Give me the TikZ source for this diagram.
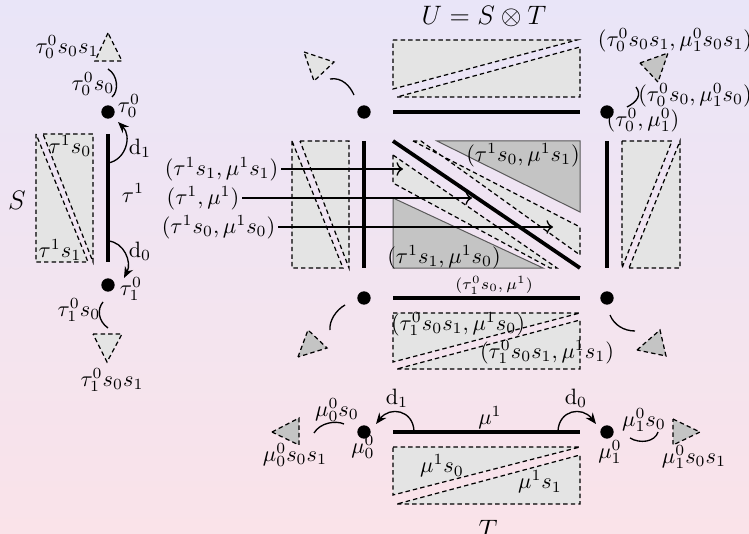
\documentclass[tikz,border=0pt]{standalone}
\usetikzlibrary{arrows.meta}
\definecolor{bgtop}{HTML}{E9E5F8}
\definecolor{bgbot}{HTML}{FAE3E9}
\definecolor{lgray}{HTML}{E4E4E4}
\definecolor{dgray}{HTML}{C4C4C4}
\begin{document}
\begin{tikzpicture}[x=0.45pt,y=-0.45pt,
  lt/.style={fill=lgray, draw=black, dash pattern=on 2pt off 1.4pt, line width=0.55pt},
  dk/.style={fill=dgray, draw=black, dash pattern=on 2pt off 1.4pt, line width=0.55pt},
  dks/.style={fill=dgray, draw=black!65, line width=0.45pt},
  edge/.style={line width=1.7pt},
  dot/.style={circle, fill=black, inner sep=0pt, minimum size=6pt},
  arc/.style={line width=0.6pt},
  face/.style={line width=0.6pt,-{Stealth[length=5pt,width=4pt]}},
  lab/.style={inner sep=1pt}]
\useasboundingbox (0,0) rectangle (749,534);
\shade[top color=bgtop,bottom color=bgbot] (0,0) rectangle (749,534);

% ================= S =================
\node[dot] (t00) at (108,112) {};
\node[dot] (t10) at (108,285) {};
\path[lt] (36,134) -- (36,262) -- (88,262) -- cycle;
\path[lt] (43,134) -- (93,134) -- (93,262) -- cycle;
\node[lab] (ts0) at (70,146) {$\tau^1s_0$};
\node[lab] (ts1) at (60,250) {$\tau^1s_1$};
\node (Slab) at (17,200) {\large $S$};
\coordinate (sa) at (108,134); \coordinate (sb) at (108,262);
\draw[edge] (sa) -- (sb);
\node[lab] (tau1) at (133,193) {$\tau^1$};
\node[lab] (t00l) at (129,106) {$\tau^0_0$};
\node[lab] (t10l) at (131,289) {$\tau^0_1$};
% d1, d0
\coordinate (d1s) at (108,163); \coordinate (d1e) at (118,122);
\draw[face] (d1s) .. controls (126,160) and (132,136) .. (d1e);
\node[lab] (d1l) at (140,148) {$\mathrm{d}_1$};
\coordinate (d0s) at (108,241); \coordinate (d0e) at (124,278);
\draw[face] (d0s) .. controls (124,242) and (132,262) .. (d0e);
\node[lab] (d0l) at (140,251) {$\mathrm{d}_0$};
% top degenerate
\coordinate (ua) at (108,69); \coordinate (ub) at (112,97);
\draw[arc] (ua) .. controls (118,75) and (119,91) .. (ub);
\node[lab] (t00s0) at (93,84) {$\tau^0_0s_0$};
\path[lt] (108,33) -- (95,61) -- (122,61) -- cycle;
\node[lab] (t00s0s1) at (67,47) {$\tau^0_0s_0s_1$};
% bottom degenerate
\coordinate (la) at (103,302); \coordinate (lb) at (108,328);
\draw[arc] (la) .. controls (97,309) and (98,321) .. (lb);
\node[lab] (t10s0) at (79,310) {$\tau^0_1s_0$};
\path[lt] (93,334) -- (122,334) -- (107,362) -- cycle;
\node[lab] (t10s0s1) at (112,380) {$\tau^0_1s_0s_1$};

% ================= U =================
\node (Ulab) at (484,17) {\large $U=S\otimes T$};
% rectangles
\path[lt] (393,40) -- (577,40) -- (393,89) -- cycle;
\path[lt] (397,97) -- (580,97) -- (580,47) -- cycle;
\path[lt] (393,313) -- (580,313) -- (393,362) -- cycle;
\path[lt] (397,369) -- (580,369) -- (580,320) -- cycle;
\path[lt] (292,141) -- (292,268) -- (343,268) -- cycle;
\path[lt] (300,141) -- (349,141) -- (349,268) -- cycle;
\path[lt] (622,141) -- (672,141) -- (622,268) -- cycle;
\path[lt] (629,268) -- (680,268) -- (680,141) -- cycle;
% centre
\path[dks] (437,141) -- (580,141) -- (580,212) -- cycle;
\path[dks] (393,198) -- (393,268) -- (543,268) -- cycle;
\path[lt] (413,141) -- (421,141) -- (580,255) -- (580,227) -- cycle;
\path[lt] (393,155) -- (393,183) -- (550,268) -- (557,268) -- cycle;
% dots
\node[dot] (u00) at (364,112) {};
\node[dot] (u01) at (607,112) {};
\node[dot] (u10) at (364,298) {};
\node[dot] (u11) at (607,298) {};
% edges
\coordinate (e1a) at (393,112); \coordinate (e1b) at (580,112);
\coordinate (e2a) at (393,298); \coordinate (e2b) at (580,298);
\coordinate (e3a) at (364,141); \coordinate (e3b) at (364,268);
\coordinate (e4a) at (607,141); \coordinate (e4b) at (607,268);
\coordinate (e5a) at (393,141); \coordinate (e5b) at (580,268);
\draw[edge] (e1a) -- (e1b);
\draw[edge] (e2a) -- (e2b);
\draw[edge] (e3a) -- (e3b);
\draw[edge] (e4a) -- (e4b);
\draw[edge] (e5a) -- (e5b);
% centre labels
\node[lab] (c1) at (523,155) {$(\tau^1s_0,\mu^1s_1)$};
\node[lab] (c2) at (444,257) {$(\tau^1s_1,\mu^1s_0)$};
\node[lab] (c3) at (494,285) {\fontsize{7.5}{9}\selectfont $(\tau^0_1s_0,\mu^1)$};
\node[lab] (c4) at (458,324) {$(\tau^0_1s_0s_1,\mu^1s_0)$};
\node[lab] (c5) at (547,352) {$(\tau^0_1s_0s_1,\mu^1s_1)$};
% left labels with arrows
\node[lab,anchor=east] (a1) at (281,169) {$(\tau^1s_1,\mu^1s_1)$};
\node[lab,anchor=east] (a2) at (242,198) {$(\tau^1,\mu^1)$};
\node[lab,anchor=east] (a3) at (278,227) {$(\tau^1s_0,\mu^1s_0)$};
\coordinate (a1e) at (403,169);
\coordinate (a2e) at (472,198);
\coordinate (a3e) at (553,227);
\draw[arc,->] (a1) -- (a1e);
\draw[arc,->] (a2) -- (a2e);
\draw[arc,->] (a3) -- (a3e);
% corners
\coordinate (ula) at (330,79); \coordinate (ulb) at (354,95);
\draw[arc] (ula) .. controls (342,77) and (350,86) .. (ulb);
\path[lt] (304,52) -- (334,62) -- (314,81) -- cycle;
\coordinate (ura) at (636,87); \coordinate (urb) at (627,107);
\draw[arc] (ura) .. controls (642,95) and (637,102) .. (urb);
\path[dk] (640,63) -- (668,53) -- (658,82) -- cycle;
\node[lab] (ur1) at (675,40) {$(\tau^0_0s_0s_1,\mu^0_1s_0s_1)$};
\node[lab] (ur2) at (695,95) {$(\tau^0_0s_0,\mu^0_1s_0)$};
\node[lab] (ur3) at (643,120) {$(\tau^0_0,\mu^0_1)$};
\coordinate (lla) at (345,305); \coordinate (llb) at (330,330);
\draw[arc] (lla) .. controls (336,310) and (329,321) .. (llb);
\path[dk] (298,357) -- (308,330) -- (327,348) -- cycle;
\coordinate (lra) at (610,315); \coordinate (lrb) at (635,331);
\draw[arc] (lra) .. controls (614,325) and (624,331) .. (lrb);
\path[dk] (637,350) -- (660,330) -- (666,356) -- cycle;

% ================= T =================
\node[dot] (m0) at (364,432) {};
\node[dot] (m1) at (607,432) {};
\coordinate (ta) at (393,432); \coordinate (tb) at (580,432);
\draw[edge] (ta) -- (tb);
\node[lab] (mu1) at (490,418) {$\mu^1$};
\node[lab] (m0l) at (363,447) {$\mu^0_0$};
\node[lab] (m1l) at (610,452) {$\mu^0_1$};
\coordinate (td1s) at (414,431); \coordinate (td1e) at (376,424);
\draw[face] (td1s) .. controls (413,410) and (390,406) .. (td1e);
\node[lab] (td1l) at (397,398) {$\mathrm{d}_1$};
\coordinate (td0s) at (558,431); \coordinate (td0e) at (596,424);
\draw[face] (td0s) .. controls (559,410) and (582,406) .. (td0e);
\node[lab] (td0l) at (576,398) {$\mathrm{d}_0$};
\coordinate (tla) at (314,433); \coordinate (tlb) at (344,424);
\draw[arc] (tla) .. controls (320,423) and (335,420) .. (tlb);
\node[lab] (m0s0) at (337,410) {$\mu^0_0s_0$};
\path[dk] (272,432) -- (299,418) -- (299,445) -- cycle;
\node[lab] (m0s0s1) at (295,455) {$\mu^0_0s_0s_1$};
\coordinate (tra) at (630,438); \coordinate (trb) at (658,432);
\draw[arc] (tra) .. controls (640,444) and (655,442) .. (trb);
\node[lab] (m1s0) at (644,420) {$\mu^0_1s_0$};
\path[dk] (673,419) -- (700,432) -- (673,445) -- cycle;
\node[lab] (m1s0s1) at (694,457) {$\mu^0_1s_0s_1$};
\path[lt] (393,447) -- (580,447) -- (393,495) -- cycle;
\path[lt] (397,504) -- (580,504) -- (580,455) -- cycle;
\node[lab] (ms0) at (442,466) {$\mu^1s_0$};
\node[lab] (ms1) at (540,482) {$\mu^1s_1$};
\node (Tlab) at (488,529) {\large $T$};
\end{tikzpicture}
\end{document}
